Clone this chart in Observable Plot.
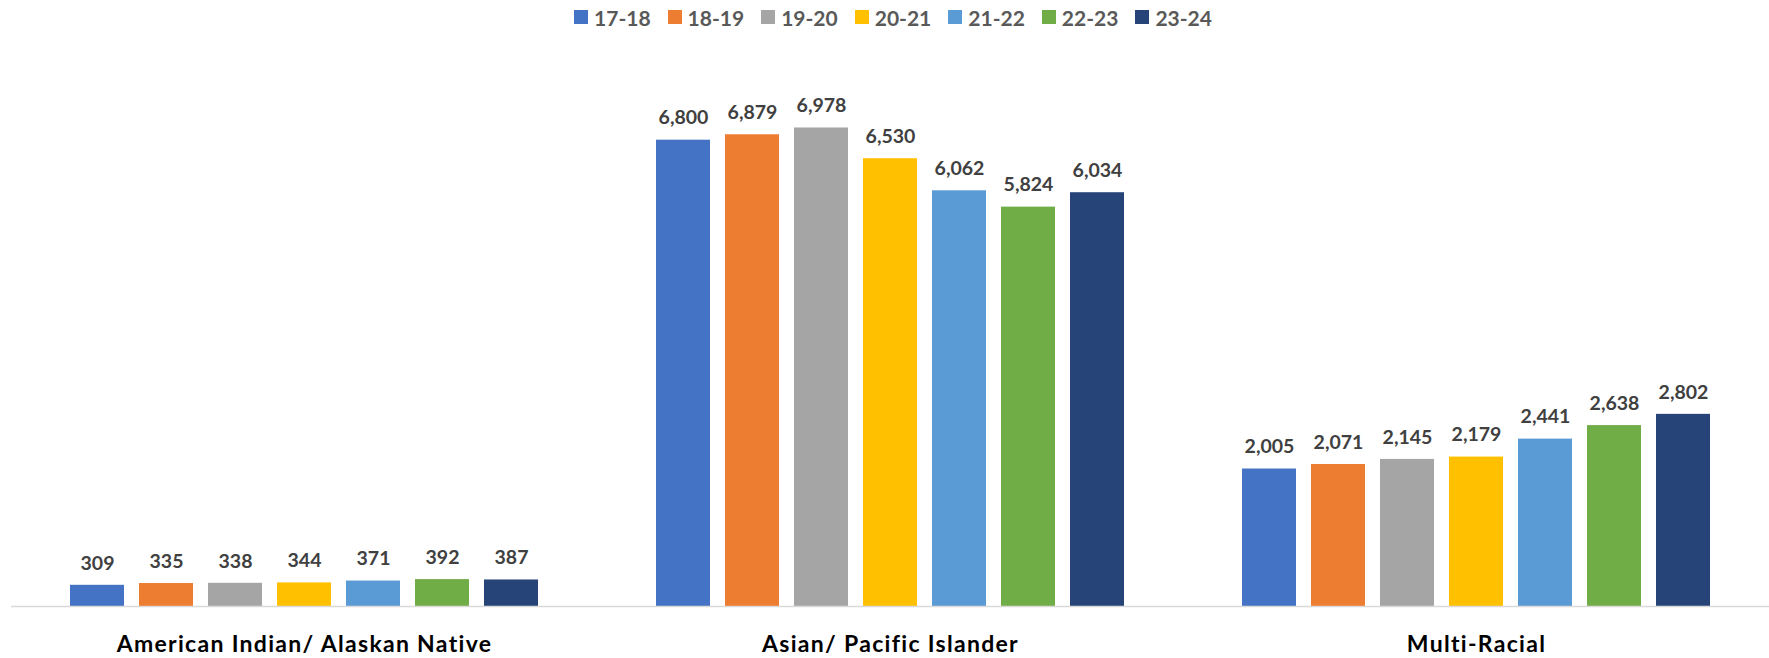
<!DOCTYPE html>
<html><head><meta charset="utf-8">
<script src="https://cdn.jsdelivr.net/npm/d3@7"></script>
<script src="https://cdn.jsdelivr.net/npm/@observablehq/plot@0.6"></script>
<style>
body{margin:0;background:#fff;font-family:Lato, "Open Sans", sans-serif;}
#legend{height:34px;display:flex;justify-content:center;align-items:center;gap:17px;padding-left:17px;box-sizing:border-box;}
.item{display:flex;align-items:center;font-size:21px;font-weight:700;color:#595959;}
.sw{width:14px;height:14px;margin-right:6px;}
g[aria-label="fx-axis tick label"] text{letter-spacing:1.3px;}
</style></head>
<body><div id="legend"></div><div id="chart"></div>
<script>
const categories = ["American Indian/ Alaskan Native", "Asian/ Pacific Islander", "Multi-Racial"];
const years = ["17-18", "18-19", "19-20", "20-21", "21-22", "22-23", "23-24"];
const americanIndian = [309, 335, 338, 344, 371, 392, 387];
const asianPacific = [6800, 6879, 6978, 6530, 6062, 5824, 6034];
const multiRacial = [2005, 2071, 2145, 2179, 2441, 2638, 2802];
const colors = ["#4472C4", "#ED7D31", "#A5A5A5", "#FFC000", "#5B9BD5", "#70AD47", "#264478"];

const series = [americanIndian, asianPacific, multiRacial];
const data = [];
categories.forEach((c, i) => years.forEach((y, j) => data.push({category: c, year: y, value: series[i][j]})));

const legend = document.getElementById("legend");
years.forEach((y, j) => {
  const it = document.createElement("div"); it.className = "item";
  const sw = document.createElement("span"); sw.className = "sw"; sw.style.background = colors[j];
  it.appendChild(sw); it.appendChild(document.createTextNode(y));
  legend.appendChild(it);
});

const chart = Plot.plot({
  width: 1769, height: 624,
  marginLeft: 10, marginRight: 0, marginTop: 23.4, marginBottom: 52,
  fx: {domain: categories, padding: 0, label: null},
  x: {domain: years, paddingInner: 0.214, paddingOuter: 0.807, axis: null},
  y: {domain: [0, 8000], axis: null},
  color: {domain: years, range: colors},
  style: {fontFamily: "Lato, 'Open Sans', sans-serif", background: "#fff"},
  marks: [
    Plot.barY(data, {fx: "category", x: "year", y: "value", fill: "year"}),
    Plot.ruleY([0], {stroke: "#d9d9d9", strokeWidth: 1.3}),
    Plot.text(data, {fx: "category", x: "year", y: "value", text: d => d3.format(",")(d.value), dy: -22, fontSize: 19.5, fontWeight: 700, fill: "#404040"}),
    Plot.axisFx({anchor: "bottom", tickSize: 0, tickPadding: 29, fontSize: 23, fontWeight: 700, fill: "#000", label: null})
  ]
});
document.getElementById("chart").appendChild(chart);
</script>
</body></html>
